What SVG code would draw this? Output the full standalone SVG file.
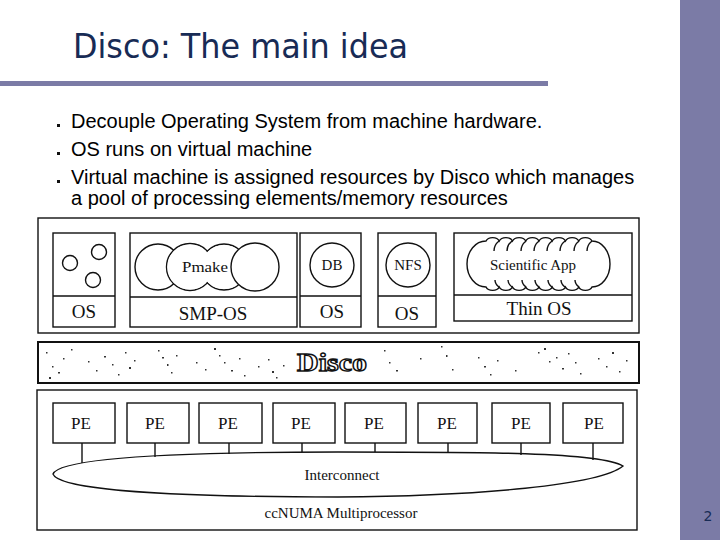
<svg xmlns="http://www.w3.org/2000/svg" width="720" height="540" viewBox="0 0 720 540">
<style>
.title{font-family:"DejaVu Sans Condensed","DejaVu Sans",sans-serif;font-size:33px;fill:#182b55}
.bul{font-family:"Liberation Sans",Arial,sans-serif;font-size:20px;fill:#000}
.box{fill:#fff;stroke:#111;stroke-width:1.4}
.ln{fill:none;stroke:#111;stroke-width:1.4}
.lab{font-family:"Liberation Serif","Times New Roman",serif;fill:#111;text-anchor:middle}
.os{font-size:19px}
.sm{font-size:15px}
.pe{font-size:17px}
</style>
<rect x="0" y="0" width="720" height="540" fill="#fff"/>
<rect x="680" y="0" width="40" height="540" fill="#7b7ba6"/>
<rect x="0" y="81" width="548" height="5" fill="#7b7ba6"/>
<text class="title" x="73" y="58" textLength="335" lengthAdjust="spacingAndGlyphs">Disco: The main idea</text>
<g fill="#111">
<rect x="57" y="124" width="3" height="3"/>
<rect x="57" y="152" width="3" height="3"/>
<rect x="57" y="180" width="3" height="3"/>
</g>
<text class="bul" x="71" y="128">Decouple Operating System from machine hardware.</text>
<text class="bul" x="71" y="156">OS runs on virtual machine</text>
<text class="bul" x="71" y="184">Virtual machine is assigned resources by Disco which manages</text>
<text class="bul" x="71" y="205">a pool of processing elements/memory resources</text>
<text x="708" y="521" font-family="DejaVu Sans,sans-serif" font-size="14" fill="#182b55" text-anchor="middle">2</text>

<g id="vm-layer">
<rect class="box" x="38" y="218" width="601" height="115"/>
</g>
<g id="vm1">
<rect class="box" x="53" y="233" width="62" height="94"/>
<line class="ln" x1="53" y1="296" x2="115" y2="296"/>
<circle class="ln" cx="70" cy="263" r="7.5"/>
<circle class="ln" cx="99" cy="252" r="7.5"/>
<circle class="ln" cx="93" cy="280" r="7.5"/>
<text class="lab os" x="84" y="318">OS</text>
</g>
<g id="vm2">
<rect class="box" x="130" y="233" width="167" height="94"/>
<line class="ln" x1="130" y1="297" x2="297" y2="297"/>
<circle class="box" cx="158" cy="267" r="23"/>
<circle class="box" cx="190" cy="267" r="23.5"/>
<circle class="box" cx="224" cy="267" r="23"/>
<circle cx="190" cy="267" r="22.6" fill="#fff"/>
<circle cx="224" cy="267" r="22.1" fill="#fff"/>
<circle class="box" cx="255" cy="267" r="24"/>
<text class="lab sm" x="205" y="272" textLength="46" lengthAdjust="spacingAndGlyphs">Pmake</text>
<text class="lab os" x="213" y="320">SMP-OS</text>
</g>
<g id="vm3">
<rect class="box" x="300" y="233" width="61" height="94"/>
<line class="ln" x1="300" y1="296" x2="361" y2="296"/>
<circle class="ln" cx="332" cy="265" r="22"/>
<text class="lab sm" x="332" y="270">DB</text>
<text class="lab os" x="332" y="318">OS</text>
</g>
<g id="vm4">
<rect class="box" x="378" y="233" width="58" height="94"/>
<line class="ln" x1="378" y1="296" x2="436" y2="296"/>
<circle class="ln" cx="408" cy="265" r="22"/>
<text class="lab sm" x="408" y="270">NFS</text>
<text class="lab os" x="407" y="320">OS</text>
</g>
<g id="vm5">
<rect class="box" x="454" y="233" width="178" height="88"/>
<line class="ln" x1="454" y1="295" x2="632" y2="295"/>
<path class="ln" d="M486,241 A19 23 0 0 0 486,287 a7 5 0 0 0 13.25 0 a7 5 0 0 0 13.25 0 a7 5 0 0 0 13.25 0 a7 5 0 0 0 13.25 0 a7 5 0 0 0 13.25 0 a7 5 0 0 0 13.25 0 a7 5 0 0 0 13.25 0 a7 5 0 0 0 13.25 0 A18 23 0 0 0 592,241 a7 5 0 0 0 -13.25 0 a7 5 0 0 0 -13.25 0 a7 5 0 0 0 -13.25 0 a7 5 0 0 0 -13.25 0 a7 5 0 0 0 -13.25 0 a7 5 0 0 0 -13.25 0 a7 5 0 0 0 -13.25 0 a7 5 0 0 0 -13.25 0 Z"/>
<path class="ln" d="M499,241 q-5 4 -5 10 M512,241 q-5 4 -5 10 M526,241 q-5 4 -5 10 M539,241 q-5 4 -5 10 M552,241 q-5 4 -5 10 M565,241 q-5 4 -5 10 M579,241 q-5 4 -5 10 M592,241 q-5 4 -5 10 M499,287 q-4 -3 -4 -7 M512,287 q-4 -3 -4 -7 M526,287 q-4 -3 -4 -7 M539,287 q-4 -3 -4 -7 M552,287 q-4 -3 -4 -7 M565,287 q-4 -3 -4 -7 M579,287 q-4 -3 -4 -7"/>
<rect x="492" y="255" width="88" height="20" fill="#fff"/>
<text class="lab sm" x="533" y="270">Scientific App</text>
<text class="lab os" x="539" y="315">Thin OS</text>
</g>

<g id="disco">
<rect x="38" y="342" width="601" height="41" fill="#fff" stroke="#111" stroke-width="2"/>
<path fill="#333" d="M46,352h1.5v1.5h-1.5z M52,366h1.5v1.5h-1.5z M58,372h2v1.5h-2z M63,358h1.5v1.5h-1.5z M49,377h2v2h-2z M71,349h1.5v1.5h-1.5z M88,361h1.5v1.5h-1.5z M96,370h1.5v1.5h-1.5z M104,356h2v1.5h-2z M112,364h1.5v1.5h-1.5z M118,374h1.5v1.5h-1.5z M125,352h1.5v1.5h-1.5z M129,367h2v2h-2z M134,360h1.5v1.5h-1.5z M158,350h1.5v1.5h-1.5z M162,357h2v1.5h-2z M167,364h1.5v2h-1.5z M171,372h1.5v1.5h-1.5z M176,355h1.5v1.5h-1.5z M196,362h1.5v1.5h-1.5z M205,369h1.5v1.5h-1.5z M214,348h2v2h-2z M219,355h1.5v1.5h-1.5z M224,362h1.5v1.5h-1.5z M231,370h2v1.5h-2z M239,358h1.5v1.5h-1.5z M244,375h1.5v1.5h-1.5z M258,366h1.5v1.5h-1.5z M268,359h1.5v1.5h-1.5z M272,371h2v2h-2z M276,377h1.5v1.5h-1.5z M283,365h1.5v1.5h-1.5z M384,350h1.5v1.5h-1.5z M389,362h1.5v1.5h-1.5z M396,370h2v1.5h-2z M420,358h1.5v1.5h-1.5z M441,346h1.5v1.5h-1.5z M446,355h1.5v2h-1.5z M452,369h1.5v1.5h-1.5z M478,357h1.5v1.5h-1.5z M484,366h2v1.5h-2z M490,374h1.5v1.5h-1.5z M497,360h1.5v1.5h-1.5z M515,370h1.5v1.5h-1.5z M538,352h1.5v1.5h-1.5z M544,348h2v2h-2z M549,361h1.5v1.5h-1.5z M556,357h1.5v1.5h-1.5z M562,368h2v1.5h-2z M568,353h1.5v1.5h-1.5z M575,362h1.5v1.5h-1.5z M580,373h1.5v1.5h-1.5z M598,358h1.5v1.5h-1.5z M606,366h1.5v1.5h-1.5z M612,352h2v2h-2z M619,371h1.5v1.5h-1.5z M626,360h1.5v1.5h-1.5z"/>
<text x="332" y="371" font-family="Liberation Serif,serif" font-weight="bold" font-size="25" fill="#fff" stroke="#111" stroke-width="1.3" text-anchor="middle" textLength="70" lengthAdjust="spacingAndGlyphs">Disco</text>
</g>

<g id="machine">
<rect class="box" x="37" y="390" width="600" height="140"/>
<text class="lab sm" x="341" y="518">ccNUMA Multiprocessor</text>
</g>
<g id="interconnect">
<path class="box" d="M53,474 C60,456 200,452 338,452 C480,452 600,452 623,466 C600,485 480,496 338,497 C200,497 60,492 53,474 Z"/>
<text class="lab sm" x="342" y="480">Interconnect</text>
</g>
<g id="pe1"><rect class="box" x="53" y="403" width="62" height="40"/><text class="lab pe" x="81" y="429">PE</text></g>
<g id="pe2"><rect class="box" x="127" y="403" width="62" height="40"/><text class="lab pe" x="155" y="429">PE</text></g>
<g id="pe3"><rect class="box" x="199" y="403" width="63" height="40"/><text class="lab pe" x="228" y="429">PE</text></g>
<g id="pe4"><rect class="box" x="273" y="403" width="62" height="40"/><text class="lab pe" x="301" y="429">PE</text></g>
<g id="pe5"><rect class="box" x="345" y="403" width="61" height="40"/><text class="lab pe" x="374" y="429">PE</text></g>
<g id="pe6"><rect class="box" x="418" y="403" width="59" height="40"/><text class="lab pe" x="447" y="429">PE</text></g>
<g id="pe7"><rect class="box" x="492" y="403" width="58" height="40"/><text class="lab pe" x="521" y="429">PE</text></g>
<g id="pe8"><rect class="box" x="563" y="403" width="60" height="40"/><text class="lab pe" x="594" y="429">PE</text></g>
<g id="connectors" class="ln">
<line x1="82" y1="443" x2="82" y2="463"/>
<line x1="155" y1="443" x2="155" y2="457"/>
<line x1="229" y1="443" x2="229" y2="454"/>
<line x1="302" y1="443" x2="302" y2="452"/>
<line x1="375" y1="443" x2="375" y2="452"/>
<line x1="448" y1="443" x2="448" y2="453"/>
<line x1="521" y1="443" x2="521" y2="455"/>
<line x1="593" y1="443" x2="593" y2="460"/>
</g>
</svg>
